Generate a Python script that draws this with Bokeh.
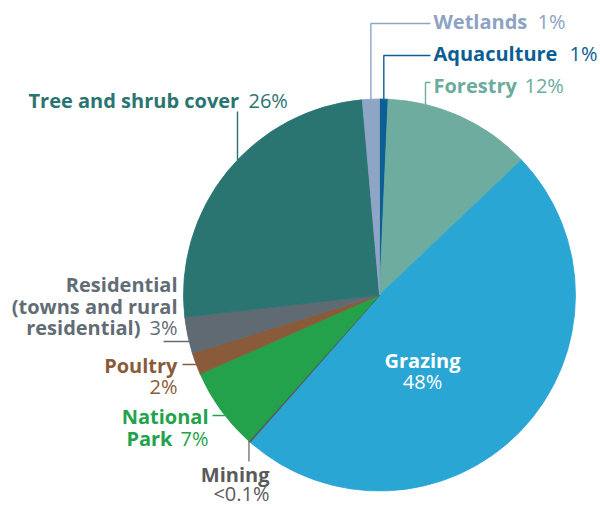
import numpy as np
from bokeh.plotting import figure
from bokeh.models import Range1d
from bokeh.embed import file_html
from bokeh.resources import INLINE
from bokeh.core.properties import value

# ---- data (clockwise from 12 o'clock) ----
categories = ["Aquaculture", "Forestry", "Grazing", "Mining", "National Park",
              "Poultry", "Residential", "Tree and shrub cover", "Wetlands"]
shares = [0.7, 12.2, 48.6, 0.1, 6.8, 1.8, 3.0, 25.4, 1.4]
share_labels = ["1%", "12%", "48%", "<0.1%", "7%", "2%", "3%", "26%", "1%"]
name_lines = [["Aquaculture"], ["Forestry"], ["Grazing"], ["Mining"], ["National", "Park"],
              ["Poultry"], ["Residential", "(towns and rural", "residential)"],
              ["Tree and shrub cover"], ["Wetlands"]]
fill_colors = ["#0b5f94", "#6eaca0", "#2aa6d5", "#5a5a5a", "#23a24b",
               "#8a5b3b", "#5f6a72", "#2a7571", "#8ea5c6"]
text_colors = ["#0b5e92", "#6cab9e", "#ffffff", "#5a5a5a", "#23a24b",
               "#8a5b3b", "#626c75", "#2a7571", "#8da3c4"]

# ---- layout (reference pixel coords) ----
CX, CY, R = 379.0, 294.5, 196.0
W, H = 600, 507
FONT = "Open Sans"
FS = "20px"
DY = -7  # baseline correction for text rendering

p = figure(width=W, height=H, output_backend="svg", toolbar_location=None,
           x_range=Range1d(0, W), y_range=Range1d(-H, 0),
           min_border=0, outline_line_color=None, background_fill_color="white",
           border_fill_color="white")
p.axis.visible = False
p.grid.visible = False

tot = float(sum(shares))
cum = np.concatenate([[0.0], np.cumsum(shares)]) / tot
starts = np.pi / 2 - 2 * np.pi * cum[:-1]
ends = np.pi / 2 - 2 * np.pi * cum[1:]

p.wedge(x=[CX] * len(shares), y=[-CY] * len(shares), radius=R,
        start_angle=list(starts), end_angle=list(ends), direction="clock",
        fill_color=fill_colors, line_color=fill_colors,
        line_width=[0.8, 0.8, 0.8, 1.6, 0.8, 0.8, 0.8, 0.8, 0.8])

def edge_y_top(x):
    return CY - np.sqrt(R ** 2 - (x - CX) ** 2)

def edge_y_bot(x):
    return CY + np.sqrt(R ** 2 - (x - CX) ** 2)

def edge_x_left(y):
    return CX - np.sqrt(R ** 2 - (y - CY) ** 2)

mid = (starts + ends) / 2
idx = {c: i for i, c in enumerate(categories)}

def line(xs, ys, col):
    p.line(x=xs, y=[-v for v in ys], line_color=col, line_width=1.4)

# leaders
i = idx["Wetlands"]; xw = CX + R * np.cos(mid[i])
line([430, xw, xw], [23, 23, edge_y_top(xw)], fill_colors[i])
i = idx["Aquaculture"]; xa = CX + R * np.cos(mid[i])
line([430, xa, xa], [55, 55, edge_y_top(xa)], fill_colors[i])
i = idx["Forestry"]
line([430, 425, 425], [82, 82, edge_y_top(425)], fill_colors[i])
i = idx["Tree and shrub cover"]
line([237, 237], [111, edge_y_top(237)], fill_colors[i])
i = idx["Residential"]
line([163, edge_x_left(341)], [341, 341], text_colors[i])
i = idx["Poultry"]
line([182, edge_x_left(364)], [364, 364], text_colors[i])
i = idx["National Park"]
line([212, edge_x_left(415)], [415, 415], text_colors[i])
i = idx["Mining"]; xm = CX + R * np.cos(ends[i])
line([xm, xm], [edge_y_bot(xm), 461], "#777777")

def txt(x, y, s, col, align="left", bold=True):
    p.text(x=[x], y=[-(y + DY)], text=[s], text_color=col, text_font=value(FONT),
           text_font_size=FS, text_font_style="bold" if bold else "normal",
           text_align=align, text_baseline="alphabetic")

# labels
for c, xn, yb, xp in [("Wetlands", 433, 28, 537), ("Aquaculture", 433, 60, 569),
                      ("Forestry", 433, 92, 524), ("Tree and shrub cover", 28, 107, 248)]:
    i = idx[c]
    txt(xn, yb, name_lines[i][0], text_colors[i])
    txt(xp, yb, share_labels[i], text_colors[i], bold=False)

i = idx["Residential"]
txt(177, 291, name_lines[i][0], text_colors[i], "right")
txt(177, 313, name_lines[i][1], text_colors[i], "right")
txt(140, 334, name_lines[i][2], text_colors[i], "right")
txt(177, 334, share_labels[i], text_colors[i], "right", bold=False)

i = idx["Poultry"]
txt(177, 372, name_lines[i][0], text_colors[i], "right")
txt(177, 393, share_labels[i], text_colors[i], "right", bold=False)

i = idx["National Park"]
txt(208, 423, name_lines[i][0], text_colors[i], "right")
txt(172, 445, name_lines[i][1], text_colors[i], "right")
txt(208, 445, share_labels[i], text_colors[i], "right", bold=False)

i = idx["Mining"]
txt(269, 481, name_lines[i][0], text_colors[i], "right")
txt(269, 500, share_labels[i], text_colors[i], "right", bold=False)

i = idx["Grazing"]
txt(422, 367, name_lines[i][0], text_colors[i], "center")
txt(422, 388, share_labels[i], text_colors[i], "center", bold=False)

open("out.html", "w").write(file_html(p, INLINE))
